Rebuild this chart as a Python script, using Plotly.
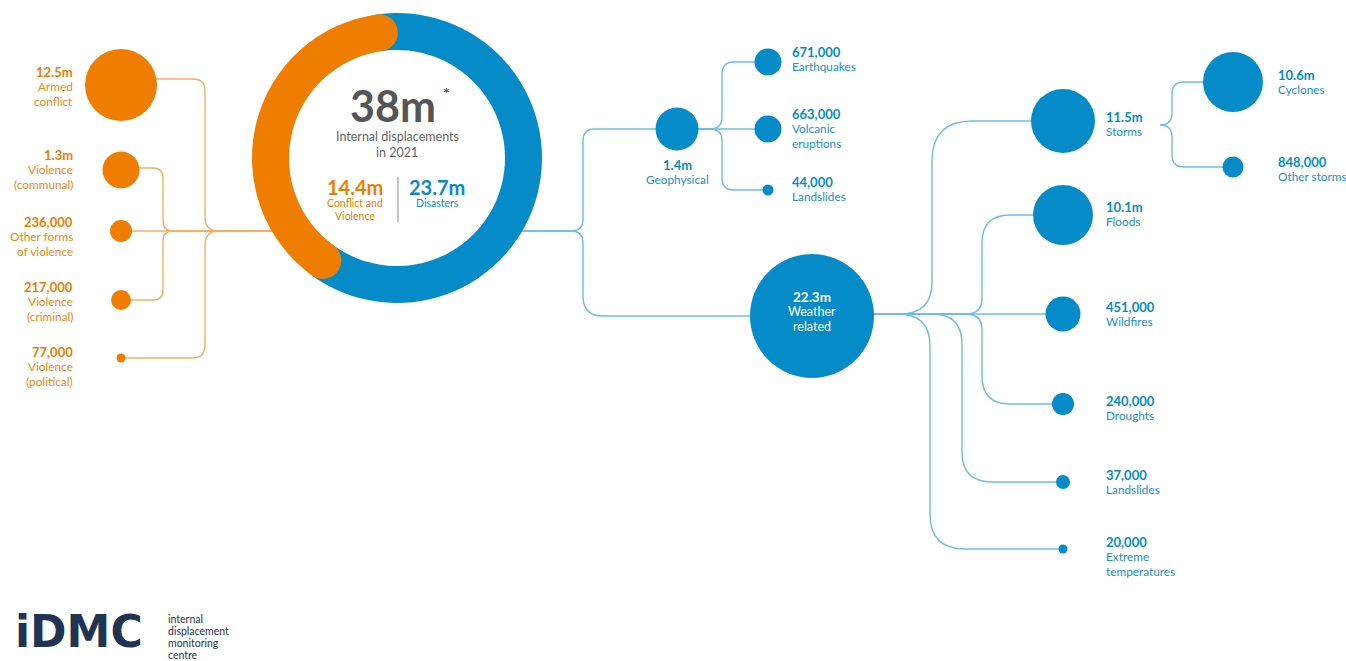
import math
import plotly.graph_objects as go

# ---------------- DATA ----------------
total_label = "38m"
total_values = [14.4, 23.7]                       # million: conflict & violence, disasters
total_names = ["Conflict and<br>Violence", "Disasters"]
total_value_labels = ["14.4m", "23.7m"]

conflict_names = ["Armed<br>conflict", "Violence<br>(communal)", "Other forms<br>of violence",
                  "Violence<br>(criminal)", "Violence<br>(political)"]
conflict_values = [12_500_000, 1_300_000, 236_000, 217_000, 77_000]
conflict_labels = ["12.5m", "1.3m", "236,000", "217,000", "77,000"]

disaster_names = ["Geophysical", "Weather<br>related"]
disaster_values = [1_400_000, 22_300_000]
disaster_labels = ["1.4m", "22.3m"]

geo_names = ["Earthquakes", "Volcanic<br>eruptions", "Landslides"]
geo_values = [671_000, 663_000, 44_000]
geo_labels = ["671,000", "663,000", "44,000"]

weather_names = ["Storms", "Floods", "Wildfires", "Droughts", "Landslides", "Extreme<br>temperatures"]
weather_values = [11_500_000, 10_100_000, 451_000, 240_000, 37_000, 20_000]
weather_labels = ["11.5m", "10.1m", "451,000", "240,000", "37,000", "20,000"]

storm_names = ["Cyclones", "Other storms"]
storm_values = [10_600_000, 848_000]
storm_labels = ["10.6m", "848,000"]

# ---------------- LAYOUT (pixel positions / sizes / styles) ----------------
W, H = 1346, 661
ORANGE = "#EE7D00"
ORANGE_TXT = "#F08716"
ORANGE_LINE = "#F6AE63"
BLUE = "#058CC8"
BLUE_TXT = "#1C8FCB"
BLUE_LINE = "#6DBDE6"
GREY = "#555555"
NAVY = "#1F3352"
FONT = "Lato"

DONUT_C = (397, 158)
DONUT_R = 145
DONUT_HOLE_R = 108
DONUT_START_CCW = 8   # degrees counter-clockwise from 12 o'clock where the orange arc starts

conflict_pos = [(121, 85), (121, 170), (121, 231), (121, 300), (121, 358)]
conflict_rad = [36, 18.5, 11, 10, 4.5]
conflict_lbl = [(75, 72), (75, 155), (75, 222), (75, 287), (75, 352)]

disaster_pos = [(677, 129), (812, 316)]
disaster_rad = [21.5, 62]

geo_pos = [(768, 62), (768, 129), (768, 190)]
geo_rad = [13.5, 13.5, 5.5]
geo_lbl = [(790, 52), (790, 114), (790, 182)]

weather_pos = [(1063, 121), (1063, 215), (1063, 314), (1063, 404), (1063, 482), (1063, 549)]
weather_rad = [32, 30, 17.5, 11, 7, 4.5]
weather_lbl = [(1104, 117), (1104, 207), (1104, 307), (1104, 401), (1104, 475), (1104, 542)]

storm_pos = [(1233, 82), (1233, 167)]
storm_rad = [30, 10.5]
storm_lbl = [(1276, 75), (1276, 162)]

LINE_GAP = 14.5


def elbow(x0, y0, xv, y1, x1, r0, r1):
    """Horizontal -> vertical -> horizontal connector with rounded corners."""
    if abs(y1 - y0) < 0.5:
        return f"M {x0} {y0} L {x1} {y1}"
    s = 1 if y1 > y0 else -1
    return (f"M {x0} {y0} L {xv - r0} {y0} Q {xv} {y0} {xv} {y0 + s * r0} "
            f"L {xv} {y1 - s * r1} Q {xv} {y1} {xv + r1} {y1} L {x1} {y1}")


fig = go.Figure()
shapes = []


def add_path(p, color):
    shapes.append(dict(type="path", path=p, xref="x", yref="y", layer="below",
                       line=dict(color=color, width=1.4)))


# ---- connectors: conflict side ----
trunk_y = 231
half = math.sqrt(DONUT_R ** 2 - (trunk_y - DONUT_C[1]) ** 2)
left_edge = DONUT_C[0] - half
right_edge = DONUT_C[0] + half
conflict_route = [(79, 205, 12, 14), (168, 163, 10, 10), (231, 163, 0, 0), (300, 163, 10, 10), (358, 205, 13, 14)]
for (px, py), (ly, xv, r0, r1) in zip(conflict_pos, conflict_route):
    add_path(elbow(px, ly, xv, trunk_y, left_edge + 1, r0, r1), ORANGE_LINE)

# ---- connectors: disaster side ----
add_path(elbow(right_edge - 1, trunk_y, 583, disaster_pos[0][1], disaster_pos[0][0], 12, 12), BLUE_LINE)
add_path(elbow(right_edge - 1, trunk_y, 583, disaster_pos[1][1], disaster_pos[1][0], 12, 20), BLUE_LINE)

gx, gy = disaster_pos[0]
for (px, py) in geo_pos:
    add_path(elbow(gx, gy, 722, py, px, 12, 12), BLUE_LINE)

wx, wy = disaster_pos[1][0], 314
weather_route = [(932, 32, 40), (982, 16, 28), (982, 0, 0), (982, 16, 28), (962, 30, 30), (930, 32, 35)]
for (px, py), (xv, r0, r1) in zip(weather_pos, weather_route):
    add_path(elbow(wx, wy, xv, py, px, r0, r1), BLUE_LINE)

for (px, py) in storm_pos:
    add_path(elbow(1160, 125, 1172, py, px, 12, 12), BLUE_LINE)

# ---- donut ----
frac0 = total_values[0] / sum(total_values)
fig.add_trace(go.Pie(
    values=total_values, labels=["Conflict and Violence", "Disasters"],
    marker=dict(colors=[ORANGE, BLUE], line=dict(width=0)),
    hole=DONUT_HOLE_R / DONUT_R, sort=False, direction="clockwise",
    rotation=-(DONUT_START_CCW + 360 * frac0), textinfo="none", hoverinfo="skip", showlegend=False,
    domain=dict(x=[(DONUT_C[0] - DONUT_R) / W, (DONUT_C[0] + DONUT_R) / W],
                y=[(H - DONUT_C[1] - DONUT_R) / H, (H - DONUT_C[1] + DONUT_R) / H]),
))

# rounded caps of the orange arc (positions derived from the data)
rm = (DONUT_R + DONUT_HOLE_R) / 2
cap_r = (DONUT_R - DONUT_HOLE_R) / 2
a0 = math.radians(DONUT_START_CCW)
a1 = a0 + 2 * math.pi * frac0
for a in (a0, a1):
    cx = DONUT_C[0] - rm * math.sin(a)
    cy = DONUT_C[1] - rm * math.cos(a)
    shapes.append(dict(type="circle", xref="x", yref="y", layer="above",
                       x0=cx - cap_r, x1=cx + cap_r, y0=cy - cap_r, y1=cy + cap_r,
                       fillcolor=ORANGE, line=dict(width=0)))

# ---- bubbles ----
def bubbles(pos, rad, color, names):
    fig.add_trace(go.Scatter(
        x=[p[0] for p in pos], y=[p[1] for p in pos], mode="markers",
        marker=dict(size=[2 * r for r in rad], color=color, line=dict(width=0), opacity=1),
        hovertext=[n.replace("<br>", " ") for n in names], hoverinfo="text", showlegend=False))


bubbles(conflict_pos, conflict_rad, ORANGE, conflict_names)
bubbles(disaster_pos, disaster_rad, BLUE, disaster_names)
bubbles(geo_pos, geo_rad, BLUE, geo_names)
bubbles(weather_pos, weather_rad, BLUE, weather_names)
bubbles(storm_pos, storm_rad, BLUE, storm_names)

# ---- labels ----
ann = []


def label(x, y, value, name, vcolor, ncolor, anchor, vsize=13, nsize=11.8):
    ann.append(dict(x=x, y=y, text=f"<b>{value}</b>", xanchor=anchor, yanchor="middle",
                    font=dict(family=FONT, size=vsize, color=vcolor), showarrow=False))
    for i, line in enumerate(name.split("<br>")):
        ann.append(dict(x=x, y=y + LINE_GAP * (i + 1), text=line, xanchor=anchor, yanchor="middle",
                        font=dict(family=FONT, size=nsize, color=ncolor), showarrow=False))


for (lx, ly), v, n in zip(conflict_lbl, conflict_labels, conflict_names):
    label(lx, ly, v, n, ORANGE, ORANGE_TXT, "right")
for (lx, ly), v, n in zip(geo_lbl, geo_labels, geo_names):
    label(lx, ly, v, n, BLUE, BLUE_TXT, "left")
for (lx, ly), v, n in zip(weather_lbl, weather_labels, weather_names):
    label(lx, ly, v, n, BLUE, BLUE_TXT, "left")
for (lx, ly), v, n in zip(storm_lbl, storm_labels, storm_names):
    label(lx, ly, v, n, BLUE, BLUE_TXT, "left")

# Geophysical (below bubble) and Weather (inside bubble)
label(disaster_pos[0][0], 165, disaster_labels[0], disaster_names[0], BLUE, BLUE_TXT, "center")
label(disaster_pos[1][0], 297, disaster_labels[1], disaster_names[1], "white", "white", "center",
      vsize=13.5, nsize=12.5)

# donut centre text
ann.append(dict(x=393, y=105, text=f"<b>{total_label}</b>", xanchor="center", yanchor="middle",
                font=dict(family=FONT, size=43, color=GREY), showarrow=False))
ann.append(dict(x=446, y=92, text="<b>*</b>", xanchor="center", yanchor="middle",
                font=dict(family=FONT, size=16, color=GREY), showarrow=False))
ann.append(dict(x=397, y=136, text="Internal displacements", xanchor="center", yanchor="middle",
                font=dict(family=FONT, size=12.5, color="#666666"), showarrow=False))
ann.append(dict(x=397, y=152, text="in 2021", xanchor="center", yanchor="middle",
                font=dict(family=FONT, size=12.5, color="#666666"), showarrow=False))
for xc, v, n, c in zip([355, 437], total_value_labels, total_names, [ORANGE, BLUE]):
    ann.append(dict(x=xc, y=187, text=f"<b>{v}</b>", xanchor="center", yanchor="middle",
                    font=dict(family=FONT, size=20, color=c), showarrow=False))
    for i, line in enumerate(n.split("<br>")):
        ann.append(dict(x=xc, y=203 + 13 * i, text=line, xanchor="center", yanchor="middle",
                        font=dict(family=FONT, size=10.5, color=c), showarrow=False))
shapes.append(dict(type="line", xref="x", yref="y", x0=398, x1=398, y0=177, y1=222,
                   line=dict(color="#8a8a8a", width=1), layer="above"))

# logo
ann.append(dict(x=13, y=631, text="<b>iDMC</b>", xanchor="left", yanchor="middle",
                font=dict(family="DejaVu Sans", size=44, color=NAVY), showarrow=False))
for i, t in enumerate(["internal", "displacement", "monitoring", "centre"]):
    ann.append(dict(x=166, y=619 + 12 * i, text=t, xanchor="left", yanchor="middle",
                    font=dict(family=FONT, size=10.5, color=NAVY), showarrow=False))

fig.update_layout(
    width=W, height=H, margin=dict(l=0, r=0, t=0, b=0),
    paper_bgcolor="white", plot_bgcolor="white",
    xaxis=dict(range=[0, W], visible=False, fixedrange=True),
    yaxis=dict(range=[H, 0], visible=False, fixedrange=True),
    shapes=shapes, annotations=ann, showlegend=False,
)

fig.write_html("out.html", config={"displayModeBar": False})
